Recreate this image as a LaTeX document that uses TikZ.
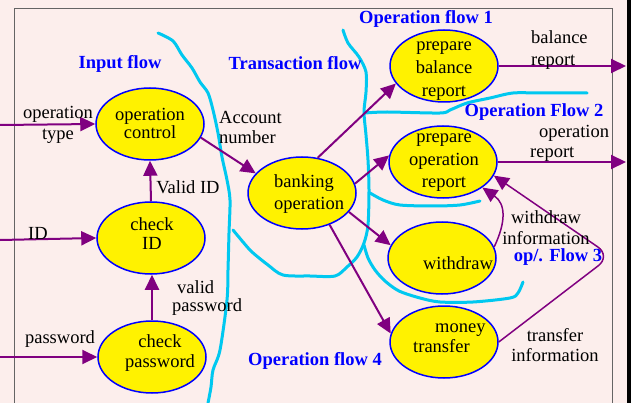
\documentclass[tikz,border=0pt]{standalone}
\usepackage{fontspec}
\setmainfont{Liberation Serif}
\usetikzlibrary{arrows.meta,shapes.geometric}
\definecolor{bgpink}{RGB}{252,238,236}
\definecolor{flowpurple}{RGB}{128,0,128}
\definecolor{bndcyan}{RGB}{0,200,240}
\definecolor{framegray}{RGB}{100,100,100}
\tikzset{
  proc/.style={ellipse, draw=blue, fill=yellow, line width=1.5pt,
    minimum width=108pt, minimum height=72pt, inner sep=0pt},
  txt/.style={inner sep=0pt, font=\fontsize{18.5}{22}\selectfont},
  flowname/.style={inner sep=0pt, text=blue, font=\fontsize{18.5}{22}\selectfont\bfseries},
  flow/.style={draw=flowpurple, line width=2pt, ->},
  thinflow/.style={draw=flowpurple, line width=1.5pt, ->},
  bound/.style={draw=bndcyan, line width=3pt, line cap=round, line join=round},
}
\begin{document}
\begin{tikzpicture}[x=1pt,y=-1pt,>={Triangle[length=15pt,width=14pt]}]
  \fill[bgpink] (0,0) rectangle (627,403);
  \fill[black] (627,0) rectangle (631,403);
  \fill[white] (631,0) rectangle (636,403);
  \useasboundingbox (0,0) rectangle (636,403);
  \draw[framegray, line width=1pt] (14,403) -- (14,9) -- (612,9) -- (612,403);

  % flow boundaries
  \draw[bound] plot[smooth] coordinates {(158,33) (173,41) (182,55) (192,68) (200,82)
    (208,93) (213,110) (218,133) (222,157) (227,180) (230,200) (229,233) (228,270)
    (227,300) (220,350) (213,370) (211,387) (208,403)};
  \draw[bound] plot[smooth] coordinates {(343,30) (348,43) (359,57) (366,72) (366,92)
    (364,112) (366,135) (368,160) (369,190) (368,225) (364,243) (357,257) (347,267)
    (335,276) (310,276) (283,275) (268,265) (252,252) (243,242) (233,230)};
  \draw[bound] plot[smooth] coordinates {(370,193) (383,200) (400,205) (433,206)
    (460,205) (480,201)};
  \draw[bound] plot[smooth] coordinates {(365,113) (387,112) (440,113) (450,110)
    (467,103) (490,98) (513,93) (540,93) (587,93)};
  \draw[bound] plot[smooth] coordinates {(364,245) (368,258) (375,270) (385,281)
    (399,291) (420,298) (440,302) (473,302) (510,298) (518,293) (523,282)};

  % flow names
  \node[flowname] (inName) at (120,64) {Input flow};
  \node[flowname] (trName) at (295,63) {Transaction flow};
  \node[flowname] (opOne) at (426,19) {Operation flow 1};
  \node[flowname] (opTwo) at (534,112) {Operation Flow 2};
  \node[flowname] (opThree) at (558,257) {op/. Flow 3};
  \node[flowname] (opFour) at (315,361) {Operation flow 4};

  % processes
  \node[proc] (opc) at (150,124) {};
  \node[proc] (cid) at (151,238) {};
  \node[proc] (cpw) at (152,357) {};
  \node[proc] (bank) at (302,193) {};
  \node[proc] (bal) at (444,66) {};
  \node[proc] (opr) at (443,162) {};
  \node[proc] (wd) at (442,258) {};
  \node[proc] (mt) at (444,342) {};

  \node[txt, align=center, font=\fontsize{18.5}{18}\selectfont] (opcT) at (150,123) {operation\\control};
  \node[txt, align=center, font=\fontsize{18.5}{19}\selectfont] (cidT) at (152,234) {check\\ID};
  \node[txt, align=center, font=\fontsize{18.5}{20}\selectfont] (cpwT) at (160,353) {check\\password};
  \node[txt, align=left, anchor=west] (bankT) at (274,194) {banking\\operation};
  \node[txt, align=center, font=\fontsize{18.5}{23}\selectfont] (balT) at (444,71) {prepare\\balance\\report};
  \node[txt, align=center, font=\fontsize{18.5}{22.5}\selectfont] (oprT) at (444,163) {prepare\\operation\\report};
  \node[txt] (wdT) at (458,263) {withdraw};
  \node[txt, align=left, anchor=west, font=\fontsize{18.5}{20}\selectfont] (mtT) at (413,338) {\hspace*{22pt}money\\transfer};

  % data flows
  \coordinate (inOp) at (0,125);
  \coordinate (inId) at (0,240);
  \coordinate (inPw) at (0,357);
  \coordinate (outBal) at (626,66);
  \coordinate (outOpr) at (626,162);
  \draw[flow] (inOp) -- (opc.west);
  \draw[flow] (inId) -- (cid.west);
  \draw[flow] (inPw) -- (cpw.west);
  \draw[flow] (cpw.north) -- (cpw.north |- cid.south);
  \draw[flow] (cid.north) -- (opc.south);
  \draw[flow] (opc.-15) -- (bank.157);
  \draw[flow] (bank.66) -- (bal.200);
  \draw[flow] (bank.10) -- (opr.173);
  \draw[flow] (bank.-22) -- (wd.166);
  \draw[flow] (bank.-49) -- (mt.171);
  \draw[flow] (bal.east) -- (outBal);
  \draw[flow] (opr.east) -- (outOpr);
  \draw[thinflow] (wd.12) .. controls (506,222) and (506,204) .. (opr.-33);
  \draw[thinflow, rounded corners=16pt] (mt.east) -- (611,256) -- (opr.-15);

  % flow labels
  \node[txt, align=center, font=\fontsize{18.5}{21}\selectfont] (lblOp) at (58,125) {operation\\type};
  \node[txt] (lblId) at (38,233) {ID};
  \node[txt] (lblPw) at (60,339) {password};
  \node[txt] (lblVid) at (188,187) {Valid ID};
  \node[txt, align=left, anchor=west, font=\fontsize{18.5}{18}\selectfont] (lblVpw) at (172,298) {\hspace*{5pt}valid\\password};
  \node[txt, align=left, anchor=west, font=\fontsize{18.5}{20}\selectfont] (lblAcc) at (219,127) {Account\\number};
  \node[txt, align=left, anchor=west] (lblBal) at (531,50) {balance\\report};
  \node[txt, align=left, anchor=west, font=\fontsize{18.5}{20}\selectfont] (lblOpr) at (530,143) {\hspace*{9pt}operation\\report};
  \node[txt, align=center, font=\fontsize{18.5}{21}\selectfont] (lblWd) at (546,228) {withdraw\\information};
  \node[txt, align=center, font=\fontsize{18.5}{20}\selectfont] (lblMt) at (555,345) {transfer\\information};
\end{tikzpicture}
\end{document}
